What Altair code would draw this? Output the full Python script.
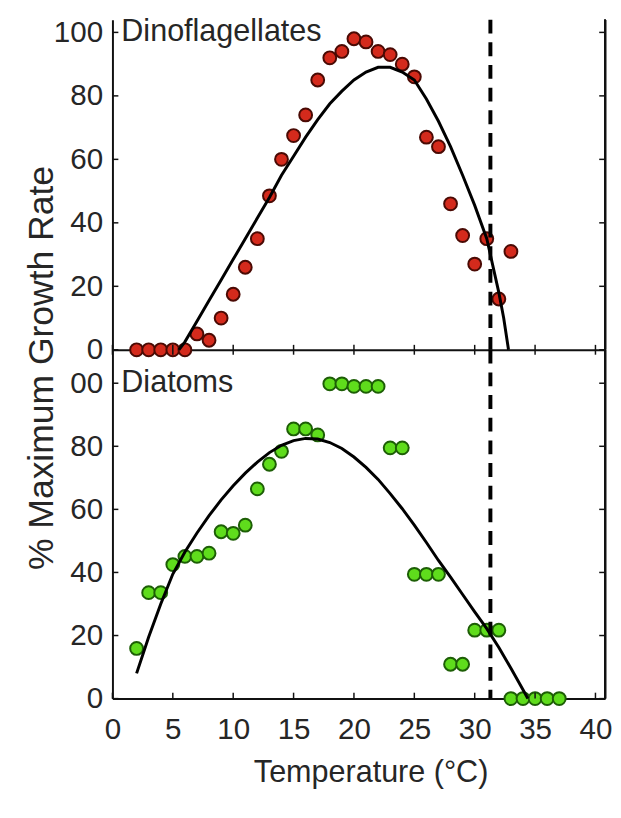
import altair as alt
import pandas as pd

# ---------------- data ----------------
dino_temp = [2, 3, 4, 5, 6, 7, 8, 9, 10, 11, 12, 13, 14, 15, 16, 17, 18, 19, 20, 21,
             22, 23, 24, 25, 26, 27, 28, 29, 30, 31, 32, 33]
dino_growth = [0, 0, 0, 0, 0, 5, 3, 10, 17.5, 26, 35, 48.5, 60, 67.5, 74, 85, 92, 94, 98, 97,
               94, 93, 90, 86, 67, 64, 46, 36, 27, 35, 16, 31]

dino_fit_temp = [5.5, 6, 7, 8, 9, 10, 11, 12, 13, 14, 15, 16, 17, 18, 19, 20, 21, 22, 23, 24,
                 25, 26, 27, 28, 29, 30, 31, 32, 32.4, 32.8]
dino_fit_growth = [0, 2.5, 9, 15.5, 22, 28.5, 35, 41.5, 48, 55, 61, 67, 72.5, 77.5, 81.5, 85, 87.5,
                   89, 89, 87.5, 85, 79, 72, 64, 55, 45.5, 35, 18, 10, 0]

diat_temp = [2, 3, 4, 5, 6, 7, 8, 9, 10, 11, 12, 13, 14, 15, 16, 17, 18, 19, 20, 21, 22, 23, 24,
             25, 26, 27, 28, 29, 30, 31, 32, 33, 34, 35, 36, 37]
diat_growth = [15.9, 33.6, 33.6, 42.5, 45.1, 45.1, 46.1, 52.9, 52.4, 55, 66.5, 74.3, 78.4, 85.5,
               85.5, 83.6, 99.8, 99.8, 99, 99, 99, 79.5, 79.5, 39.4, 39.4, 39.4, 10.9, 10.9,
               21.7, 21.7, 21.7, 0, 0, 0, 0, 0]

diat_fit_temp = [2, 3, 4, 5, 6, 7, 8, 9, 10, 11, 12, 13, 14, 15, 16, 17, 18, 19, 20, 21, 22, 23,
                 24, 25, 26, 27, 28, 29, 30, 31, 32, 33, 34, 34.4]
diat_fit_growth = [8, 19.5, 30, 39.5, 46.5, 52.5, 58, 63, 67.5, 71.5, 75, 78, 80.3, 81.8, 82.5,
                   82.3, 81.2, 79.3, 76.6, 73.3, 69.5, 65, 60.2, 55, 49.5, 43.8, 38.5, 33, 27.5,
                   22.2, 16.2, 9.6, 2.8, 0]

x_ticks = [0, 5, 10, 15, 20, 25, 30, 35, 40]
y_ticks = [0, 20, 40, 60, 80, 100]
threshold_temp = [31.3]
panel_names = ["Dinoflagellates", "Diatoms"]

# ---------------- layout ----------------
W = 500
H_TOP = 335
H_BOT = 354
X_DOMAIN = [0, 40.8]
FONT = "Liberation Sans"
TXT = "#262626"


def panel(temps, growth, fit_t, fit_g, fill, edge, name, y_max, height, bottom):
    pts = pd.DataFrame({"t": temps, "g": growth})
    fit = pd.DataFrame({"t": fit_t, "g": fit_g})
    lab = pd.DataFrame({"t": [0], "g": [100], "name": [name]})
    yt = pd.DataFrame({"g": y_ticks})
    xt = pd.DataFrame({"t": x_ticks})
    thr = pd.DataFrame({"t": threshold_temp})

    if bottom:
        xaxis = alt.Axis(values=x_ticks, ticks=False, tickSize=0, labelFontSize=30,
                         labelPadding=17, labelColor=TXT, labelFont=FONT, labelFlush=False,
                         labelOverlap=False, domainColor="#111", domainWidth=2, grid=False,
                         titleFontSize=31, titleFont=FONT, titleFontWeight="normal",
                         titleColor=TXT, titleX=262, titleY=84, titleBaseline="alphabetic")
        x = alt.X("t:Q", scale=alt.Scale(domain=X_DOMAIN, nice=False, zero=False),
                  axis=xaxis, title="Temperature (°C)")
        yaxis = alt.Axis(values=y_ticks, ticks=False, tickSize=0, labelFontSize=30,
                         labelPadding=10, labelColor=TXT, labelFont=FONT, labelOverlap=False,
                         labelExpr="datum.value == 100 ? '00' : datum.label",
                         domainColor="#111", domainWidth=2, grid=False,
                         titleFontSize=36, titleFont=FONT, titleFontWeight="normal",
                         titleColor=TXT, titleX=-61, titleY=18, titleBaseline="alphabetic",
                         titleAlign="center")
        y = alt.Y("g:Q", scale=alt.Scale(domain=[0, y_max], nice=False), axis=yaxis,
                  title="% Maximum Growth Rate")
    else:
        xaxis = alt.Axis(values=x_ticks, ticks=False, tickSize=0, labels=False,
                         domainColor="#111", domainWidth=2, grid=False)
        x = alt.X("t:Q", scale=alt.Scale(domain=X_DOMAIN, nice=False, zero=False),
                  axis=xaxis, title=None)
        yaxis = alt.Axis(values=y_ticks, ticks=False, tickSize=0, labelFontSize=30,
                         labelPadding=10, labelColor=TXT, labelFont=FONT, labelOverlap=False,
                         domainColor="#111", domainWidth=2, grid=False)
        y = alt.Y("g:Q", scale=alt.Scale(domain=[0, y_max], nice=False), axis=yaxis, title=None)

    points = alt.Chart(pts).mark_circle(size=170, color=fill, stroke=edge, strokeWidth=2,
                                        opacity=1).encode(x=x, y=y)
    curve = alt.Chart(fit).mark_line(color="black", strokeWidth=3).encode(x=x, y=y)
    dash = alt.Chart(thr).mark_rule(color="black", strokeWidth=4,
                                    strokeDash=[14, 9]).encode(x=x)
    text = alt.Chart(lab).mark_text(align="left", baseline="middle", dx=9, fontSize=31,
                                    font=FONT, color=TXT).encode(x=x, y=y, text="name:N")
    lt = alt.Chart(yt).mark_rule(color="#111", strokeWidth=1.5).encode(
        y=y, x=alt.value(0), x2=alt.value(6))
    rt = alt.Chart(yt).mark_rule(color="#111", strokeWidth=1.5).encode(
        y=y, x=alt.value(W - 6), x2=alt.value(W))
    if bottom:
        bt = alt.Chart(xt).mark_rule(color="#111", strokeWidth=1.5).encode(
            x=x, y=alt.value(height - 6), y2=alt.value(height))
    else:
        bt = alt.Chart(xt).mark_rule(color="#111", strokeWidth=1.5).encode(
            x=x, y=alt.value(height - 5), y2=alt.value(height + 5))
    spine = alt.Chart(yt).mark_rule(color="#111", strokeWidth=2).encode(
        x=alt.value(W), y=alt.value(0), y2=alt.value(height))

    return alt.layer(points, curve, dash, text, lt, rt, bt, spine).properties(
        width=W, height=height)


top = panel(dino_temp, dino_growth, dino_fit_temp, dino_fit_growth, "#d42a1c", "#4a0a04",
            panel_names[0], 104, H_TOP, False)
bot = panel(diat_temp, diat_growth, diat_fit_temp, diat_fit_growth, "#5fdc1c", "#1d5e06",
            panel_names[1], 110.6, H_BOT, True)

chart = alt.vconcat(top, bot, spacing=0, bounds="flush").properties(
    padding={"left": 15, "top": 2, "right": 0, "bottom": 4},
    background="white",
).configure_view(stroke="transparent")

chart.save("out.html", embed_options={"renderer": "svg", "actions": False})
